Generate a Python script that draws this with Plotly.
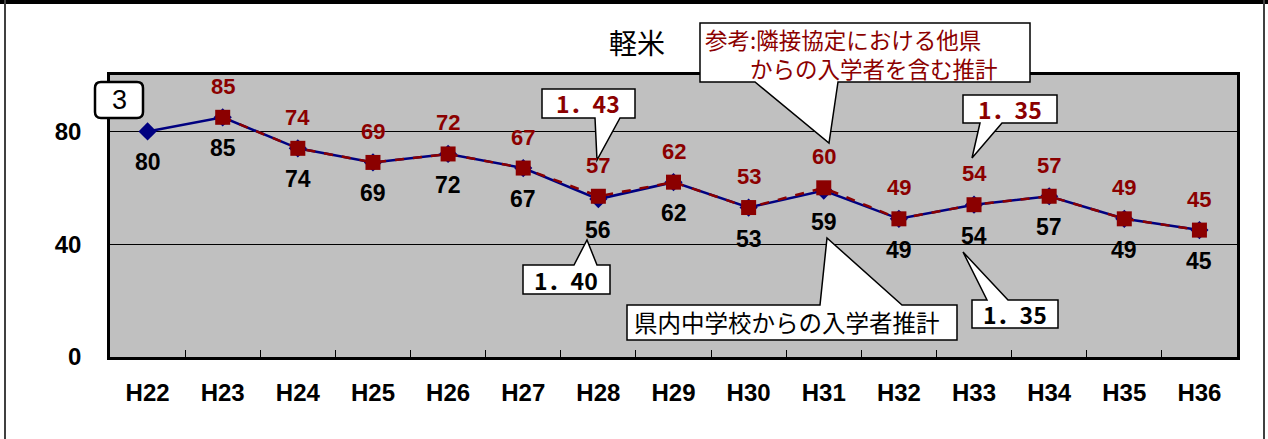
import plotly.graph_objects as go

# ---------------- data ----------------
years = ["H22", "H23", "H24", "H25", "H26", "H27", "H28", "H29",
         "H30", "H31", "H32", "H33", "H34", "H35", "H36"]
in_pref = [80, 85, 74, 69, 72, 67, 56, 62, 53, 59, 49, 54, 57, 49, 45]
with_other = [None, 85, 74, 69, 72, 67, 57, 62, 53, 60, 49, 54, 57, 49, 45]
y_ticks = [0, 40, 80]

NAVY = "#000080"
DRED = "#8B0000"
GRAY = "#C0C0C0"

W, H = 1268, 439
L, R, T, B = 110, 1237, 75, 357


def px(x):
    return (x - L) / (R - L)


def py(y):
    return (B - y) / (B - T)


def pt(x, y):
    return f"{px(x):.5f},{py(y):.5f}"


fig = go.Figure()

fig.add_trace(go.Scatter(
    x=years, y=in_pref, mode="lines+markers",
    line=dict(color=NAVY, width=2.5),
    marker=dict(symbol="diamond", size=14, color=NAVY),
    showlegend=False, hoverinfo="skip"))

fig.add_trace(go.Scatter(
    x=years, y=with_other, mode="lines+markers",
    line=dict(color=DRED, width=2.5, dash="dash"),
    marker=dict(symbol="square", size=15, color=DRED),
    showlegend=False, hoverinfo="skip"))

annotations = []
for c, v in zip(years, in_pref):
    annotations.append(dict(x=c, y=v, xref="x", yref="y", text=str(v),
                            showarrow=False, yshift=-31,
                            font=dict(family="Liberation Sans, Arial", size=23,
                                      weight="bold", color="black")))
for c, v in zip(years, with_other):
    if v is None:
        continue
    annotations.append(dict(x=c, y=v, xref="x", yref="y", text=str(v),
                            showarrow=False, yshift=31,
                            font=dict(family="Liberation Sans, Arial", size=22,
                                      weight="bold", color=DRED)))

shapes = []


def callout(x0, y0, x1, y1, b0, b1, tx, ty, side):
    if side == "bottom":
        pts = [(x0, y0), (x1, y0), (x1, y1), (b1, y1), (tx, ty), (b0, y1), (x0, y1)]
    else:
        pts = [(x0, y0), (b0, y0), (tx, ty), (b1, y0), (x1, y0), (x1, y1), (x0, y1)]
    path = "M " + " L ".join(pt(a, b) for a, b in pts) + " Z"
    shapes.append(dict(type="path", xref="paper", yref="paper", path=path,
                       fillcolor="white", line=dict(color="black", width=1.5),
                       layer="above"))


def text(x, y, s, color="black", size=22, family="Noto Sans CJK JP",
         weight="normal", xanchor="center", align="center"):
    annotations.append(dict(x=px(x), y=py(y), xref="paper", yref="paper",
                            text=s, showarrow=False, xanchor=xanchor,
                            yanchor="middle", align=align,
                            font=dict(family=family, size=size, color=color,
                                      weight=weight)))


# callouts
callout(700, 23, 1030, 82, 755, 838, 829, 143, "bottom")
callout(542, 89, 635, 118, 595, 620, 597, 160, "bottom")
callout(523, 265, 610, 294, 574, 597, 587, 240, "top")
callout(627, 305, 957, 340, 820, 902, 827, 238, "top")
callout(963, 95, 1057, 123, 980, 1002, 972, 158, "bottom")
callout(972, 300, 1058, 328, 987, 1008, 963, 252, "top")

text(703, 53, "参考:隣接協定における他県<br>\u3000\u3000からの入学者を含む推計",
     color=DRED, size=22.5, xanchor="left", align="left")
text(588, 103, "1．43", color=DRED, size=23, weight="bold")
text(566, 280, "1．40", color="black", size=23, weight="bold")
text(1010, 109, "1．35", color=DRED, size=23, weight="bold")
text(1015, 314, "1．35", color="black", size=23, weight="bold")
text(632, 322, "県内中学校からの入学者推計", color="black", size=23.5, xanchor="left")
text(637, 42, "軽米", color="black", size=28)

# rounded box "3"
bx0, by0, bx1, by1, r = 95, 82, 143, 118, 6
rpath = (f"M {pt(bx0 + r, by0)} L {pt(bx1 - r, by0)} Q {pt(bx1, by0)} {pt(bx1, by0 + r)} "
         f"L {pt(bx1, by1 - r)} Q {pt(bx1, by1)} {pt(bx1 - r, by1)} "
         f"L {pt(bx0 + r, by1)} Q {pt(bx0, by1)} {pt(bx0, by1 - r)} "
         f"L {pt(bx0, by0 + r)} Q {pt(bx0, by0)} {pt(bx0 + r, by0)} Z")
shapes.append(dict(type="path", xref="paper", yref="paper", path=rpath,
                   fillcolor="white", line=dict(color="black", width=2.5),
                   layer="above"))
text(119, 100, "3", color="black", size=27, family="Liberation Sans, Arial")

# outer frame
shapes.append(dict(type="rect", xref="paper", yref="paper",
                   x0=px(0), x1=px(W), y0=py(4), y1=py(0),
                   fillcolor="black", line=dict(width=0), layer="above"))
shapes.append(dict(type="line", xref="paper", yref="paper",
                   x0=px(5), x1=px(5), y0=py(0), y1=py(H),
                   line=dict(color="#404040", width=2), layer="above"))
shapes.append(dict(type="line", xref="paper", yref="paper",
                   x0=px(1264), x1=px(1264), y0=py(0), y1=py(H),
                   line=dict(color="#404040", width=2), layer="above"))

fig.update_layout(
    width=W, height=H,
    margin=dict(l=L, r=W - R, t=T, b=H - B, pad=0, autoexpand=False),
    paper_bgcolor="white", plot_bgcolor=GRAY,
    shapes=shapes, annotations=annotations,
    xaxis=dict(type="category", categoryorder="array", categoryarray=years,
               range=[-0.5, len(years) - 0.5],
               tickson="boundaries", ticks="inside", ticklen=7, tickwidth=1,
               tickcolor="black", showgrid=False, automargin=False,
               showline=True, linecolor="black", linewidth=2.5, mirror=True,
               tickfont=dict(family="Liberation Sans, Arial", size=24,
                             color="black", weight="bold"),
               ticklabelstandoff=12, fixedrange=True),
    yaxis=dict(range=[0, 100], tickvals=y_ticks, ticktext=[str(v) for v in y_ticks],
               showgrid=True, gridcolor="black", gridwidth=1, automargin=False,
               showline=True, linecolor="black", linewidth=2.5, mirror=True,
               zeroline=False, ticks="",
               tickfont=dict(family="Liberation Sans, Arial", size=24,
                             color="black", weight="bold"),
               ticklabelstandoff=21, fixedrange=True),
)

fig.write_html("out.html", config={"displayModeBar": False},
               post_script="document.body.style.margin='0';")
